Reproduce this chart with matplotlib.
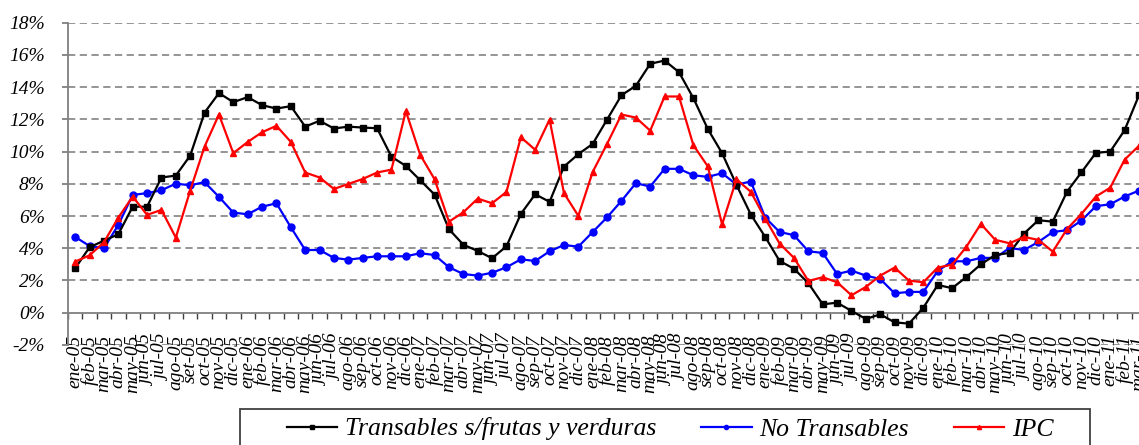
import matplotlib.pyplot as plt
from matplotlib.patches import Rectangle

meses = ['ene', 'feb', 'mar', 'abr', 'may', 'jun', 'jul', 'ago', 'sep', 'oct', 'nov', 'dic']
etiquetas = ['{}-{:02d}'.format(m, a) for a in range(5, 12) for m in meses][:75]
etiquetas[8] = 'set-05'

transables = [2.76, 4.06, 4.47, 4.87, 6.58, 6.58, 8.39, 8.51, 9.75, 12.42, 13.63, 13.07,
              13.38, 12.88, 12.67, 12.82, 11.55, 11.91, 11.43, 11.55, 11.49, 11.45, 9.68, 9.11,
              8.22, 7.33, 5.18, 4.22, 3.83, 3.38, 4.12, 6.13, 7.35, 6.88, 9.07, 9.84,
              10.48, 11.99, 13.50, 14.08, 15.45, 15.65, 14.93, 13.32, 11.41, 9.90, 7.93, 6.09,
              4.70, 3.21, 2.73, 1.83, 0.52, 0.62, 0.11, -0.39, -0.10, -0.60, -0.68, 0.31,
              1.72, 1.52, 2.22, 3.00, 3.58, 3.71, 4.91, 5.74, 5.65, 7.52, 8.72, 9.92,
              10.00, 11.33, 13.5]
no_transables = [4.70, 4.14, 4.00, 5.45, 7.31, 7.42, 7.60, 8.01, 7.91, 8.10, 7.19, 6.21,
                 6.11, 6.58, 6.79, 5.30, 3.89, 3.89, 3.40, 3.29, 3.40, 3.50, 3.50, 3.50,
                 3.69, 3.58, 2.82, 2.40, 2.30, 2.48, 2.82, 3.31, 3.21, 3.81, 4.20, 4.10,
                 5.01, 5.92, 6.94, 8.04, 7.83, 8.93, 8.93, 8.53, 8.43, 8.66, 7.95, 8.14,
                 5.90, 5.01, 4.81, 3.81, 3.71, 2.40, 2.61, 2.30, 2.09, 1.20, 1.29, 1.29,
                 2.59, 3.19, 3.19, 3.40, 3.40, 4.02, 3.89, 4.39, 5.01, 5.12, 5.72, 6.61,
                 6.73, 7.21, 7.58]
ipc = [3.17, 3.56, 4.37, 5.90, 7.21, 6.07, 6.38, 4.66, 7.58, 10.31, 12.30, 9.90,
       10.60, 11.20, 11.60, 10.60, 8.70, 8.39, 7.68, 7.99, 8.30, 8.70, 8.88, 12.51,
       9.80, 8.28, 5.65, 6.23, 7.08, 6.79, 7.50, 10.89, 10.11, 11.99, 7.42, 6.01,
       8.74, 10.48, 12.30, 12.11, 11.30, 13.42, 13.42, 10.40, 9.09, 5.48, 8.28, 7.50,
       5.84, 4.29, 3.40, 1.97, 2.20, 1.89, 1.08, 1.60, 2.30, 2.80, 1.99, 1.89,
       2.80, 2.98, 4.10, 5.51, 4.52, 4.31, 4.70, 4.52, 3.79, 5.20, 6.13, 7.21,
       7.76, 9.50, 10.36]

yticks = list(range(-2, 19, 2))

plt.rcParams['font.family'] = ['Liberation Serif', 'DejaVu Serif']
plt.rcParams['font.style'] = 'italic'

fig = plt.figure(figsize=(11.39, 4.45), dpi=100)
ax = fig.add_axes([68/1139, 1-344.9/445, 1-68/1139, (344.9-22.7)/445])

x = list(range(len(etiquetas)))
ax.plot(x, transables, color='black', lw=1.6, marker='s', ms=5, label='Transables s/frutas y verduras', zorder=4)
ax.plot(x, no_transables, color='blue', lw=1.6, marker='o', ms=5, label='No Transables', zorder=3)
ax.plot(x, ipc, color='red', lw=1.6, marker='^', ms=5, label='IPC', zorder=5)

ax.set_xlim(-0.5, 73.9)
ax.set_ylim(-2, 18)
for v in yticks:
    if v != 0:
        ax.axhline(v, color='#8c8c8c', lw=1.3, dashes=(4, 2.5), zorder=1)

ax.spines['top'].set_visible(False)
ax.spines['right'].set_visible(False)
ax.spines['bottom'].set_position(('data', 0))
ax.spines['bottom'].set_color('#808080')
ax.spines['left'].set_color('#808080')
ax.spines['bottom'].set_linewidth(1.3)
ax.spines['left'].set_linewidth(1.3)

ax.set_yticks(yticks)
ax.set_yticklabels(['{}%'.format(v) for v in yticks], fontsize=14)
ax.tick_params(axis='y', length=4.5, color='#808080', width=1.3, pad=12)

ax.set_xticks([i - 0.5 for i in x])
ax.set_xticklabels([])
ax.tick_params(axis='x', which='major', length=4.2, color='#404040', width=1, direction='out')
ax.set_xticks(x, minor=True)
ax.set_xticklabels(etiquetas, minor=True, rotation=90, fontsize=14)
ax.tick_params(axis='x', which='minor', length=0, pad=16)

leg = fig.legend(loc='center left', bbox_to_anchor=(287/1139, 1-429/445), ncol=3, frameon=False,
                 fontsize=18.5, handlelength=1.95, handletextpad=0.31, columnspacing=1.75,
                 markerscale=0.6, borderpad=0, borderaxespad=0)
fig.patches.append(Rectangle((240/1139, -0.05), (1090-240)/1139, 0.05+1-409/445,
                             transform=fig.transFigure, fill=False, edgecolor='#404040', lw=1.3))

plt.savefig('out.png', dpi=100)
